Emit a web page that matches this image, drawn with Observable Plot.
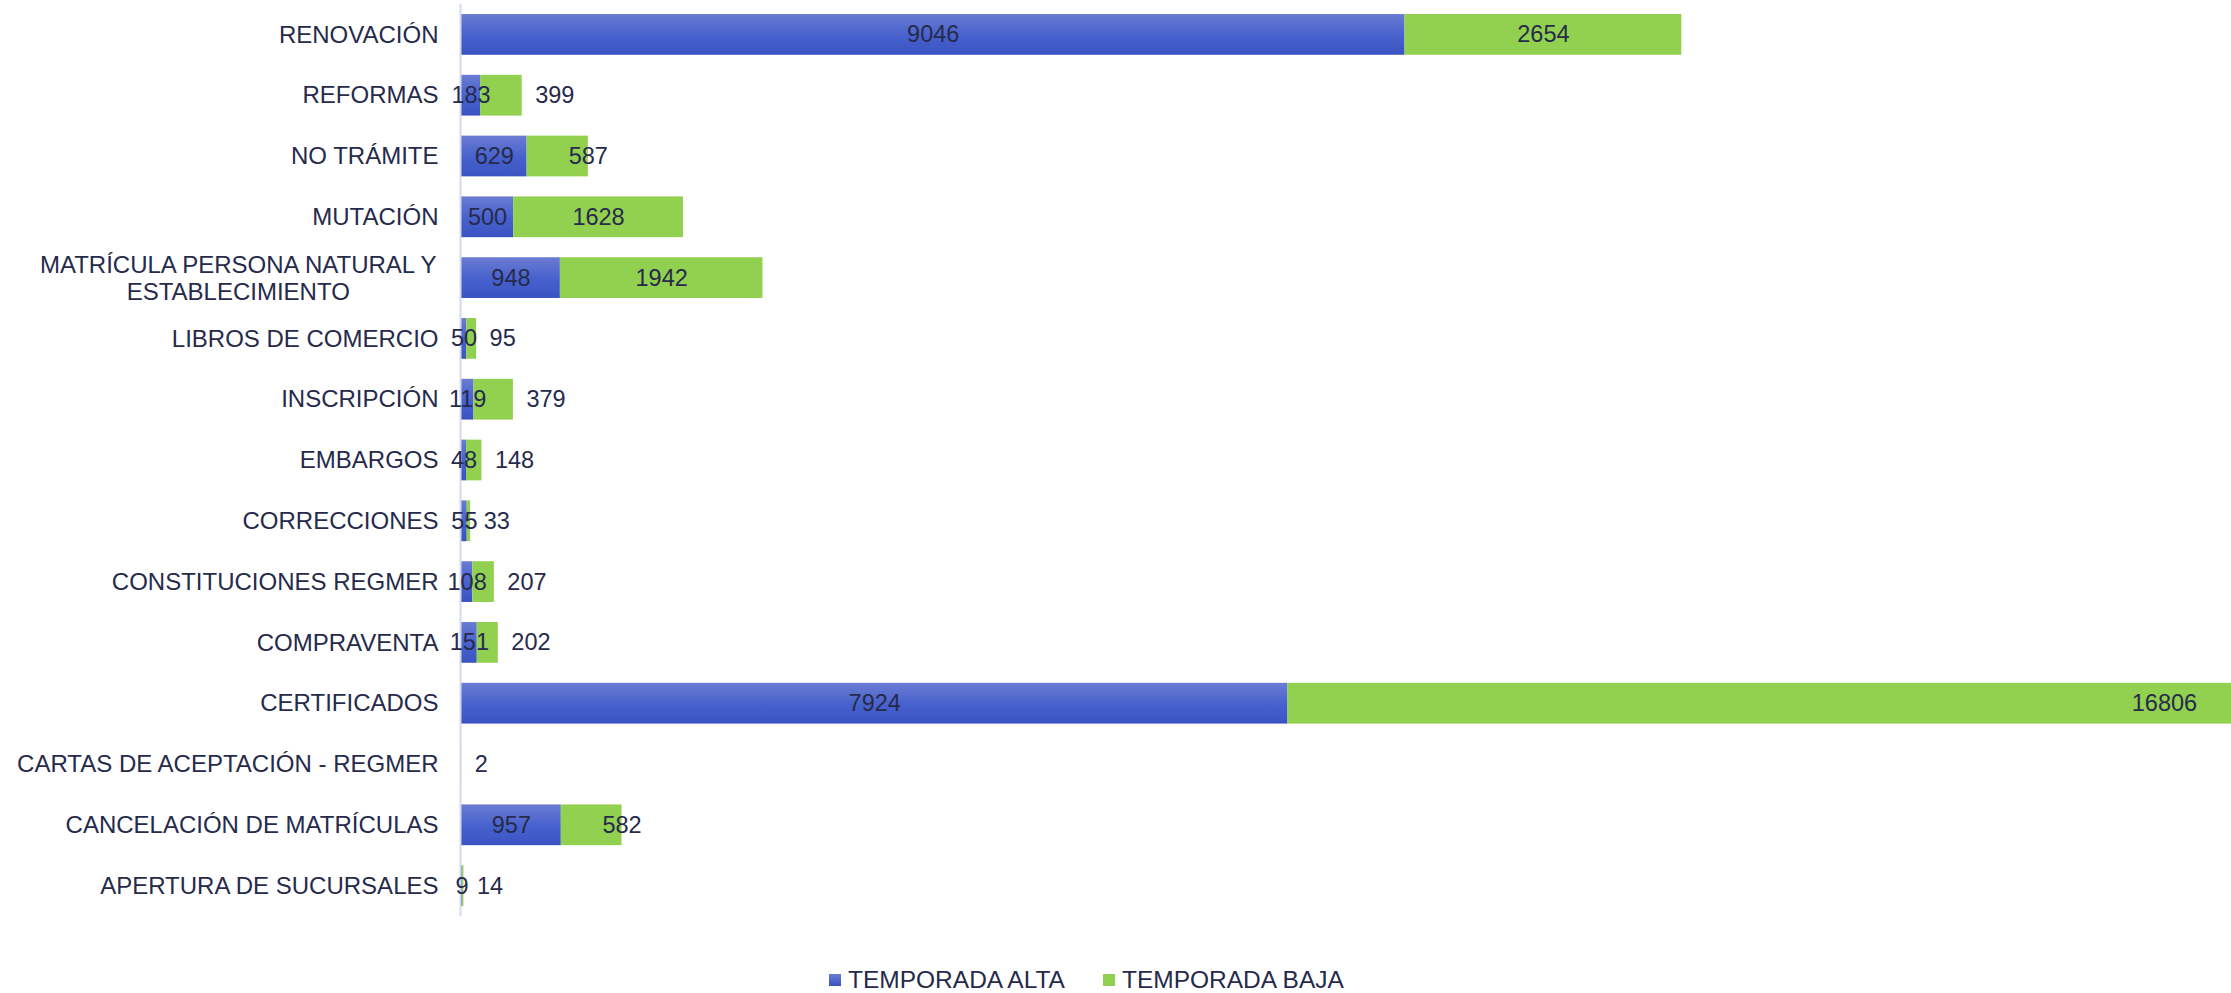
<!DOCTYPE html>
<html>
<head>
<meta charset="utf-8">
<script src="https://cdn.jsdelivr.net/npm/d3@7"></script>
<script src="https://cdn.jsdelivr.net/npm/@observablehq/plot@0.6"></script>
<style>
  html, body { margin: 0; padding: 0; background: #ffffff; overflow: hidden; }
  #chart svg { display: block; }
  .legend { display: flex; align-items: center; height: 24px; padding-top: 10px; padding-left: 829px;
            font-family: "Liberation Sans", Arial, sans-serif; font-size: 24.5px; color: #262a4b; line-height: 24px; }
  .legend .sw { width: 12px; height: 12px; margin-right: 7px; }
  .legend .item { display: flex; align-items: center; margin-right: 38px; }
</style>
</head>
<body>
<div id="chart"></div>
<div class="legend">
  <div class="item"><div class="sw" style="background: linear-gradient(#6a7bd2, #3a53c2);"></div><span>TEMPORADA ALTA</span></div>
  <div class="item"><div class="sw" style="background: #92d050;"></div><span>TEMPORADA BAJA</span></div>
</div>
<script>
const categories = [
  "RENOVACIÓN",
  "REFORMAS",
  "NO TRÁMITE",
  "MUTACIÓN",
  "MATRÍCULA PERSONA NATURAL Y\nESTABLECIMIENTO",
  "LIBROS DE COMERCIO",
  "INSCRIPCIÓN",
  "EMBARGOS",
  "CORRECCIONES",
  "CONSTITUCIONES REGMER",
  "COMPRAVENTA",
  "CERTIFICADOS",
  "CARTAS DE ACEPTACIÓN - REGMER",
  "CANCELACIÓN DE MATRÍCULAS",
  "APERTURA DE SUCURSALES"
];
const temporadaAlta = [9046, 183, 629, 500, 948, 50, 119, 48, 55, 108, 151, 7924, null, 957, 9];
const temporadaBaja = [2654, 399, 587, 1628, 1942, 95, 379, 148, 33, 207, 202, 16806, 2, 582, 14];
const seriesNames = ["TEMPORADA ALTA", "TEMPORADA BAJA"];

const rows = categories.map((c, i) => {
  const a = temporadaAlta[i];
  const b = temporadaBaja[i];
  const s = a == null ? 0 : a;
  return {cat: c, alta: a, baja: b, start: s, end: s + b};
});

const textColor = "#262a4b";
const font = "Liberation Sans, Arial, sans-serif";
const fsCat = 24;
const fsNum = 23.5;

// measure first line of the two-line category to center-align the block
const ctx = document.createElement("canvas").getContext("2d");
ctx.font = fsCat + "px " + font;
const multi = categories.filter(c => c.includes("\n"));
const single = categories.filter(c => !c.includes("\n"));
const firstLineW = multi.length ? Math.max(...multi[0].split("\n").map(l => ctx.measureText(l).width)) : 0;

const chart = Plot.plot({
  width: 2231,
  height: 958,
  marginLeft: 461,
  marginRight: 0,
  marginTop: 4,
  marginBottom: 42,
  style: {fontFamily: font, fontSize: fsNum + "px", background: "#ffffff"},
  x: {domain: [0, 16970], axis: null},
  y: {domain: categories, paddingInner: 0.33, paddingOuter: 0.165, round: false, axis: null},
  marks: [
    Plot.barX(rows.filter(d => d.alta != null), {y: "cat", x1: d => 0, x2: "alta", fill: "url(#gradAlta)", clip: true}),
    Plot.barX(rows, {y: "cat", x1: "start", x2: "end", fill: "#92d050", clip: true}),
    Plot.ruleX([0], {stroke: "#d5d8ee", strokeWidth: 2, dx: -1}),
    // category labels
    Plot.text(single, {y: d => d, text: d => d, frameAnchor: "left", textAnchor: "end", dx: -23,
      fill: textColor, fontSize: fsCat}),
    Plot.text(multi, {y: d => d, text: d => d, frameAnchor: "left", textAnchor: "middle", dx: -23 - firstLineW / 2,
      lineHeight: 27 / fsCat, fill: textColor, fontSize: fsCat}),
    // data labels: alta
    Plot.text(rows.filter(d => d.alta != null), {y: "cat", x: d => d.alta / 2, text: d => String(d.alta),
      fill: textColor, fontSize: fsNum}),
    // data labels: baja
    Plot.text(rows.filter(d => d.baja >= 1000), {y: "cat", x: d => d.start + d.baja / 2, text: d => String(d.baja),
      fill: textColor, fontSize: fsNum}),
    Plot.text(rows.filter(d => d.baja >= 500 && d.baja < 1000), {y: "cat", x: "end", text: d => String(d.baja),
      fill: textColor, fontSize: fsNum}),
    Plot.text(rows.filter(d => d.baja < 500), {y: "cat", x: "end", text: d => String(d.baja),
      textAnchor: "start", dx: 13, fill: textColor, fontSize: fsNum})
  ]
});

// gradient for the blue series
const svg = d3.select(chart);
const defs = svg.insert("defs", ":first-child");
const g = defs.append("linearGradient").attr("id", "gradAlta").attr("x1", 0).attr("y1", 0).attr("x2", 0).attr("y2", 1);
g.append("stop").attr("offset", "0%").attr("stop-color", "#6a7bd2");
g.append("stop").attr("offset", "55%").attr("stop-color", "#4661cd");
g.append("stop").attr("offset", "100%").attr("stop-color", "#3a53c2");

document.getElementById("chart").appendChild(chart);
</script>
</body>
</html>
